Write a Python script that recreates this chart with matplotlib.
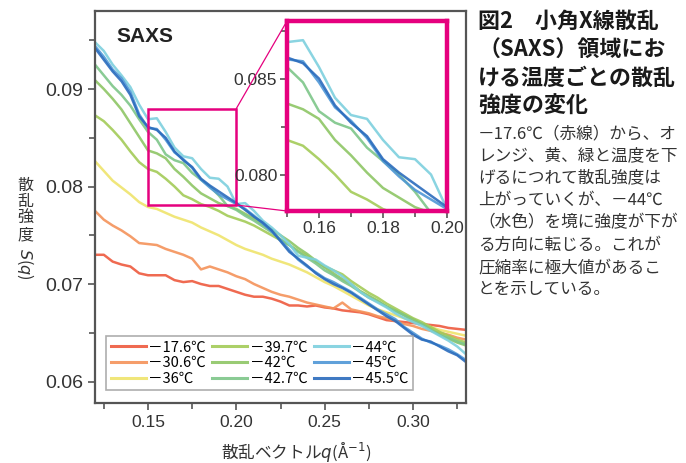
import matplotlib
matplotlib.use("Agg")
import matplotlib.pyplot as plt
import numpy as np
from matplotlib.patches import Rectangle, ConnectionPatch
from matplotlib.ticker import MultipleLocator

plt.rcParams['font.family'] = ['Noto Sans CJK JP', 'DejaVu Sans']
plt.rcParams['mathtext.fontset'] = 'dejavusans'

q = np.round(np.arange(0.120, 0.3301, 0.005), 3)

temps = ['－17.6℃', '－30.6℃', '－36℃', '－39.7℃', '－42℃', '－42.7℃',
         '－44℃', '－45℃', '－45.5℃']
colors = ['#ee5a3e', '#f4925a', '#efe46c', '#a3cb58', '#8ec665', '#7dc689',
          '#7dd0de', '#4f97d6', '#2b6cbd']

s_176 = [0.0730, 0.0730, 0.0723, 0.0720, 0.0718, 0.0711, 0.0709, 0.0709, 0.0709,
         0.0704, 0.0702, 0.0703, 0.0700, 0.0698, 0.0698, 0.0695, 0.0692, 0.0689,
         0.0687, 0.0687, 0.0685, 0.0682, 0.0678, 0.0678, 0.0677, 0.0678, 0.0676,
         0.0675, 0.0673, 0.0672, 0.0671, 0.0669, 0.0666, 0.0663, 0.0662, 0.0661,
         0.0660, 0.0659, 0.0658, 0.0657, 0.0655, 0.0654, 0.0653]
s_306 = [0.0775, 0.0766, 0.0760, 0.0755, 0.0749, 0.0742, 0.0741, 0.0740, 0.0736,
         0.0733, 0.0730, 0.0726, 0.0715, 0.0718, 0.0715, 0.0712, 0.0708, 0.0705,
         0.0700, 0.0696, 0.0692, 0.0689, 0.0687, 0.0684, 0.0681, 0.0679, 0.0677,
         0.0675, 0.0681, 0.0674, 0.0672, 0.0670, 0.0667, 0.0665, 0.0662, 0.0659,
         0.0657, 0.0654, 0.0652, 0.0650, 0.0648, 0.0645, 0.0643]
s_360 = [0.0826, 0.0816, 0.0806, 0.0799, 0.0792, 0.0784, 0.0779, 0.0777, 0.0773,
         0.0769, 0.0766, 0.0763, 0.0758, 0.0754, 0.0750, 0.0745, 0.0740, 0.0736,
         0.0733, 0.0730, 0.0726, 0.0723, 0.0720, 0.0716, 0.0712, 0.0707, 0.0702,
         0.0698, 0.0693, 0.0688, 0.0683, 0.0678, 0.0674, 0.0671, 0.0668, 0.0665,
         0.0662, 0.0659, 0.0656, 0.0653, 0.0651, 0.0649, 0.0647]
s_397 = [0.0873, 0.0867, 0.0858, 0.0848, 0.0836, 0.0825, 0.0818, 0.0815, 0.0808,
         0.0800, 0.0791, 0.0787, 0.0782, 0.0779, 0.0775, 0.0770, 0.0767, 0.0764,
         0.0760, 0.0755, 0.0750, 0.0745, 0.0740, 0.0734, 0.0729, 0.0723, 0.0718,
         0.0714, 0.0710, 0.0703, 0.0697, 0.0691, 0.0686, 0.0680, 0.0675, 0.0670,
         0.0665, 0.0661, 0.0656, 0.0651, 0.0647, 0.0643, 0.0640]
s_420 = [0.0909, 0.0900, 0.0890, 0.0879, 0.0865, 0.0851, 0.0837, 0.0834, 0.0829,
         0.0818, 0.0810, 0.0801, 0.0793, 0.0788, 0.0783, 0.0780, 0.0777, 0.0772,
         0.0767, 0.0761, 0.0756, 0.0750, 0.0744, 0.0737, 0.0731, 0.0724, 0.0717,
         0.0711, 0.0705, 0.0700, 0.0693, 0.0688, 0.0683, 0.0677, 0.0673, 0.0668,
         0.0664, 0.0659, 0.0654, 0.0648, 0.0644, 0.0640, 0.0637]
s_427 = [0.0925, 0.0914, 0.0903, 0.0894, 0.0883, 0.0869, 0.0856, 0.0848, 0.0833,
         0.0827, 0.0824, 0.0814, 0.0807, 0.0800, 0.0791, 0.0780, 0.0776, 0.0770,
         0.0765, 0.0759, 0.0753, 0.0746, 0.0740, 0.0733, 0.0727, 0.0721, 0.0714,
         0.0709, 0.0703, 0.0698, 0.0692, 0.0686, 0.0682, 0.0677, 0.0672, 0.0668,
         0.0662, 0.0659, 0.0653, 0.0648, 0.0645, 0.0641, 0.0638]
s_440 = [0.0948, 0.0939, 0.0925, 0.0914, 0.0902, 0.0884, 0.0869, 0.0870, 0.0856,
         0.0840, 0.0831, 0.0829, 0.0818, 0.0809, 0.0808, 0.0800, 0.0782, 0.0783,
         0.0775, 0.0765, 0.0758, 0.0750, 0.0741, 0.0729, 0.0727, 0.0725, 0.0719,
         0.0714, 0.0708, 0.0700, 0.0692, 0.0686, 0.0681, 0.0676, 0.0670, 0.0665,
         0.0661, 0.0657, 0.0652, 0.0647, 0.0642, 0.0636, 0.0628]
s_450 = [0.0944, 0.0933, 0.0920, 0.0911, 0.0897, 0.0874, 0.0860, 0.0859, 0.0848,
         0.0835, 0.0828, 0.0819, 0.0807, 0.0799, 0.0792, 0.0787, 0.0782, 0.0777,
         0.0770, 0.0762, 0.0754, 0.0745, 0.0735, 0.0725, 0.0718, 0.0712, 0.0706,
         0.0702, 0.0697, 0.0692, 0.0686, 0.0680, 0.0674, 0.0669, 0.0664, 0.0656,
         0.0650, 0.0644, 0.0640, 0.0637, 0.0633, 0.0628, 0.0622]
s_455 = [0.0942, 0.0930, 0.0918, 0.0908, 0.0894, 0.0872, 0.0861, 0.0858, 0.0850,
         0.0836, 0.0827, 0.0820, 0.0808, 0.0801, 0.0795, 0.0789, 0.0783, 0.0776,
         0.0769, 0.0763, 0.0755, 0.0744, 0.0733, 0.0726, 0.0719, 0.0711, 0.0705,
         0.0700, 0.0696, 0.0691, 0.0685, 0.0679, 0.0673, 0.0667, 0.0662, 0.0655,
         0.0648, 0.0643, 0.0641, 0.0636, 0.0631, 0.0627, 0.0620]
curves = [s_176, s_306, s_360, s_397, s_420, s_427, s_440, s_450, s_455]

# zoomed window
zx = (0.15, 0.20)
zy = (0.0781, 0.0880)

W, H = 686, 463
fig = plt.figure(figsize=(W / 100, H / 100), dpi=100)
ax = fig.add_axes([95 / W, 1 - 403 / H, (466 - 95) / W, (403 - 11) / H])

for s, c, t in zip(curves, colors, temps):
    ax.plot(q, s, color=c, lw=1.8, alpha=0.9, label=t)

ax.set_xlim(0.12, 0.33)
ax.set_ylim(0.0578, 0.098)
ax.xaxis.set_major_locator(MultipleLocator(0.05))
ax.xaxis.set_minor_locator(MultipleLocator(0.025))
ax.yaxis.set_major_locator(MultipleLocator(0.01))
ax.yaxis.set_minor_locator(MultipleLocator(0.005))
ax.xaxis.set_major_formatter(plt.FuncFormatter(lambda v, p: f'{v:.2f}'))
ax.yaxis.set_major_formatter(plt.FuncFormatter(lambda v, p: f'{v:.2f}'))
for sp in ax.spines.values():
    sp.set_color('#555555')
    sp.set_linewidth(1.6)
ax.tick_params(which='both', direction='out', color='#555555', width=1.2)
ax.tick_params(which='major', length=5)
ax.tick_params(which='minor', length=4)
for lab in ax.get_xticklabels():
    lab.set_fontfamily('Liberation Sans')
    lab.set_fontsize(12.5)
    lab.set_color('#333333')
for lab in ax.get_yticklabels():
    lab.set_fontfamily('Liberation Sans')
    lab.set_fontsize(14)
    lab.set_color('#333333')

ax.text(0.058, 0.935, 'SAXS', transform=ax.transAxes, fontsize=15,
        fontweight='bold', family='Liberation Sans', color='#222222', va='center')

leg = ax.legend(loc='lower left', bbox_to_anchor=(0.03, 0.032), borderaxespad=0,
                ncol=3, fontsize=10.5, frameon=True, fancybox=False,
                handlelength=2.4, handletextpad=0.2, columnspacing=0.4,
                labelspacing=0.12, borderpad=0.3)
leg.get_frame().set_edgecolor('#9a9a9a')
leg.get_frame().set_linewidth(1.2)
for line in leg.get_lines():
    line.set_linewidth(2.2)

pink = '#e5007e'
ax.add_patch(Rectangle((zx[0], zy[0]), zx[1] - zx[0], zy[1] - zy[0],
                       fill=False, ec=pink, lw=1.8, zorder=5))

# magnified view
axi = fig.add_axes([287 / W, 1 - 211 / H, (447 - 287) / W, (211 - 21) / H])
for s, c in zip(curves, colors):
    axi.plot(q, s, color=c, lw=1.8, alpha=0.9)
axi.set_xlim(*zx)
axi.set_ylim(*zy)
axi.xaxis.set_major_locator(MultipleLocator(0.02))
axi.xaxis.set_minor_locator(MultipleLocator(0.01))
axi.yaxis.set_major_locator(MultipleLocator(0.005))
axi.yaxis.set_minor_locator(MultipleLocator(0.0025))
axi.xaxis.set_major_formatter(plt.FuncFormatter(lambda v, p: f'{v:.2f}'))
axi.yaxis.set_major_formatter(plt.FuncFormatter(lambda v, p: f'{v:.3f}'))
for sp in axi.spines.values():
    sp.set_color(pink)
    sp.set_linewidth(3.2)
axi.tick_params(which='both', direction='out', color='#555555', width=1.2)
axi.tick_params(which='major', length=5, pad=2)
axi.tick_params(which='minor', length=4)
for lab in axi.get_xticklabels() + axi.get_yticklabels():
    lab.set_fontfamily('Liberation Sans')
    lab.set_fontsize(12.5)
    lab.set_color('#333333')

for ya, yb in ((zy[1], zy[1]), (zy[0], zy[0])):
    con = ConnectionPatch(xyA=(zx[1], ya), coordsA=ax.transData,
                          xyB=(zx[0], yb), coordsB=axi.transData,
                          color=pink, lw=0.9)
    fig.add_artist(con)

# axis labels
fig.text(25 / W, 1 - 210 / H, '散\n乱\n強\n度', ha='center', va='center',
         fontsize=11.5, linespacing=0.95, color='#333333')
fig.text(25 / W, 1 - 264 / H, '$S$($q$)', ha='center', va='center',
         fontsize=11.5, rotation=-90, color='#333333')
fig.text(296 / W, 1 - 451 / H, '散乱ベクトル$q$(Å$^{-1}$)', ha='center',
         va='center', fontsize=12, color='#333333')

# caption
title = '図2　小角X線散乱\n（SAXS）領域にお\nける温度ごとの散乱\n強度の変化'
fig.text(478 / W, 1 - 10 / H, title, ha='left', va='top', fontsize=15.8,
         fontweight='bold', linespacing=1.3, color='#1a1a1a')
body = ('－17.6℃（赤線）から、オ\nレンジ、黄、緑と温度を下\nげるにつれて散乱強度は\n'
        '上がっていくが、－44℃\n（水色）を境に強度が下が\nる方向に転じる。これが\n'
        '圧縮率に極大値があるこ\nとを示している。')
fig.text(478 / W, 1 - 125 / H, body, ha='left', va='top', fontsize=12,
         linespacing=1.41, color='#333333')

fig.savefig('out.png', dpi=100)
